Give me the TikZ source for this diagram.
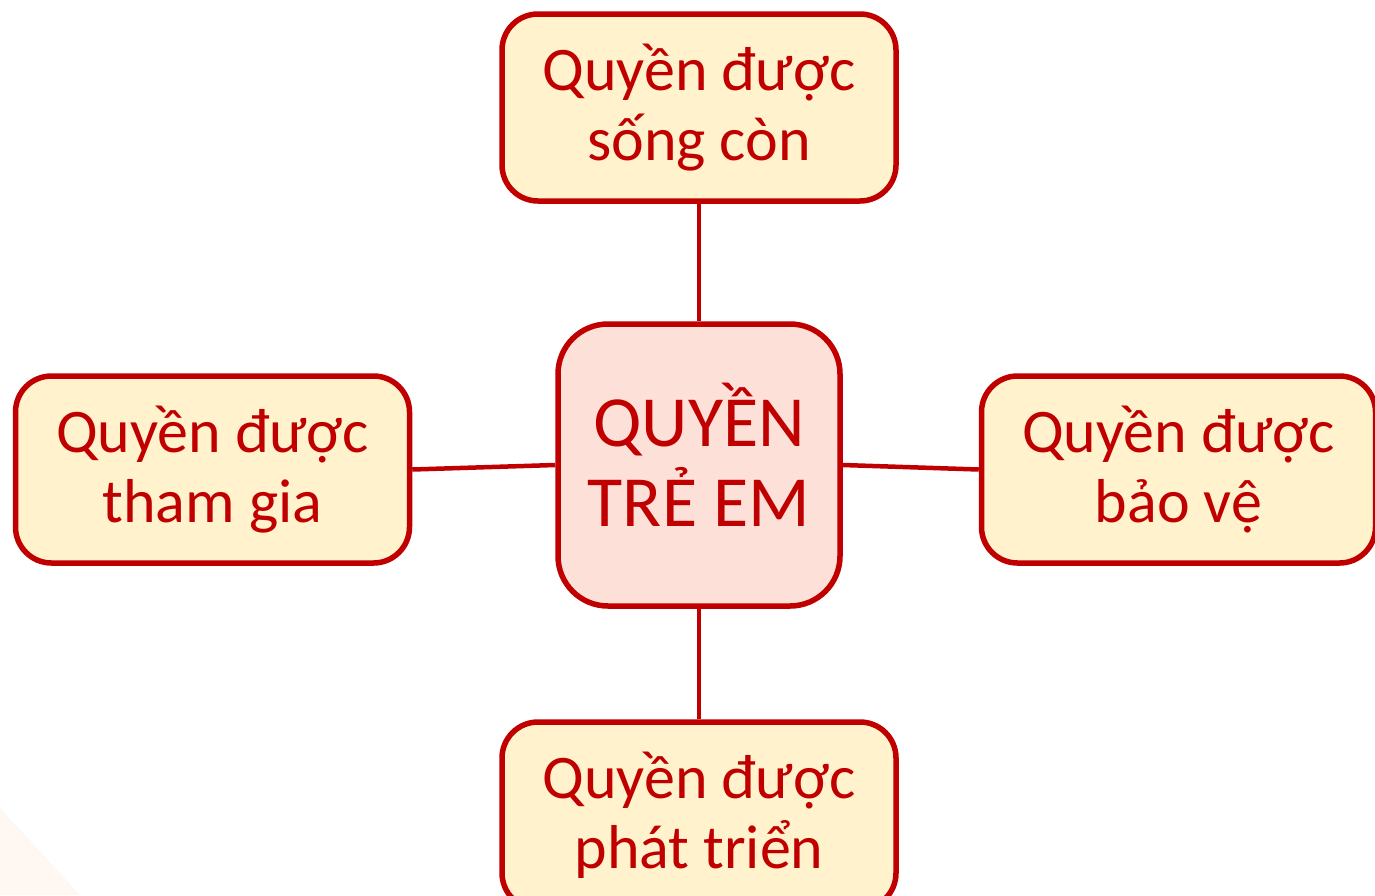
\documentclass[tikz,border=0pt]{standalone}
\usepackage{fontspec}
\setmainfont{Carlito}
\definecolor{rightred}{RGB}{192, 0, 0}
\definecolor{boxyellow}{RGB}{255, 242, 204}
\definecolor{centerpink}{RGB}{253, 224, 216}
\definecolor{cornerpeach}{RGB}{255, 247, 241}
\usetikzlibrary{positioning}

\begin{document}
\begin{tikzpicture}[x=1pt, y=-1pt,
  rightbox/.style={draw=rightred, fill=boxyellow, line width=5.5pt, rounded corners=36pt,
    minimum width=394pt, minimum height=187pt, align=center, text=rightred,
    font=\fontsize{62}{70}\selectfont},
  link/.style={draw=rightred, line width=4.5pt}]
  \clip (0,0) rectangle (1375,895);

  % faint corner shape
  \fill[cornerpeach] (0,808) -- (80,895) -- (0,895) -- cycle;

  % centre
  \node[draw=rightred, fill=centerpink, line width=5.5pt, rounded corners=50pt,
    minimum width=282pt, minimum height=282pt, text depth=20pt, align=center, text=rightred,
    font=\fontsize{72}{80}\selectfont] (tre) at (699, 465) {QUYỀN\\TRẺ EM};

  % four rights
  \node[rightbox] (song) at (699, 107.5) {Quyền được\\sống còn};
  \node[rightbox] (thamgia) at (212.5, 469.5) {Quyền được\\tham gia};
  \node[rightbox] (baove) at (1178.5, 469.5) {Quyền được\\bảo vệ};
  \node[rightbox] (phattrien) at (699, 815.5) {Quyền được\\phát triển};

  \draw[link] (song.south) -- (tre.north);
  \draw[link] (thamgia.east) -- (tre.west);
  \draw[link] (tre.east) -- (baove.west);
  \draw[link] (tre.south) -- (phattrien.north);
\end{tikzpicture}
\end{document}
